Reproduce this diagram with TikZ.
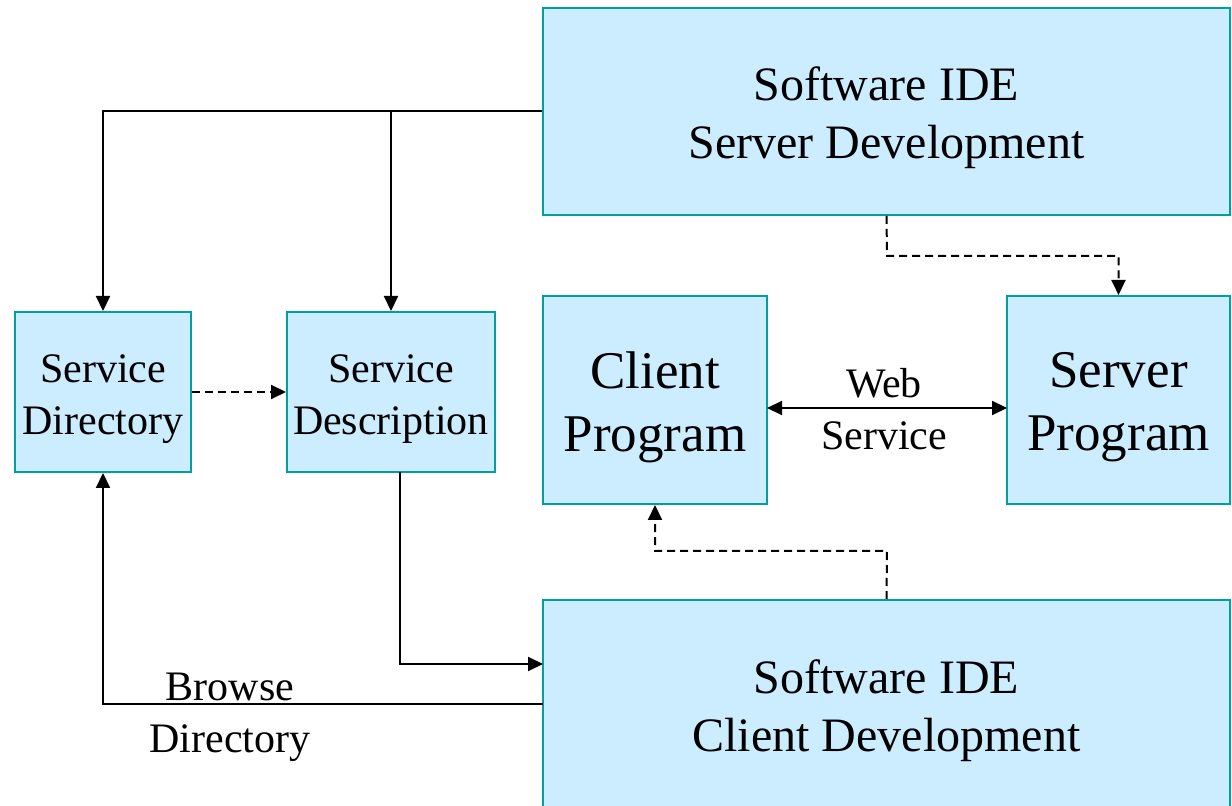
\documentclass[tikz,border=0pt]{standalone}
\usepackage{fontspec}
\setmainfont{Liberation Serif}
\usetikzlibrary{arrows.meta}
\definecolor{boxfill}{RGB}{204,236,255}
\definecolor{boxline}{RGB}{0,160,160}
\begin{document}
\begin{tikzpicture}[x=0.5pt,y=-0.5pt,
  blockbox/.style={draw=boxline,fill=boxfill,line width=1pt,inner sep=0pt},
  boxtext/.style={align=center,inner sep=0pt},
  bigtext/.style={boxtext,font=\fontsize{24}{29}\selectfont},
  progtext/.style={boxtext,font=\fontsize{26.5}{31.5}\selectfont},
  smalltext/.style={boxtext,font=\fontsize{21}{26}\selectfont},
  link/.style={line width=1pt,-{Triangle[length=7.5pt,width=7pt]}},
  dashlink/.style={link,dash pattern=on 4pt off 2.5pt}]

\useasboundingbox (0,0) rectangle (1232,806);

\node[blockbox,minimum width=343.5pt,minimum height=103.5pt] (srvide) at (886.5,111.5) {};
\node[bigtext] (srvidetxt) at (886.5,117.5) {Software IDE\\Server Development};
\node[blockbox,minimum width=343.5pt,minimum height=107.5pt] (clide) at (886.5,707.5) {};
\node[bigtext] (clidetxt) at (886.5,711) {Software IDE\\Client Development};

\node[blockbox,minimum width=88pt,minimum height=80pt] (srvdir) at (103,392) {};
\node[smalltext] (srvdirtxt) at (103,399) {Service\\Directory};
\node[blockbox,minimum width=104pt,minimum height=80pt] (srvdesc) at (391,392) {};
\node[smalltext] (srvdesctxt) at (391,399) {Service\\Description};

\node[blockbox,minimum width=112pt,minimum height=104pt] (clprog) at (655,400) {};
\node[progtext] (clprogtxt) at (655,407) {Client\\Program};
\node[blockbox,minimum width=111.5pt,minimum height=104pt] (srvprog) at (1118.5,400) {};
\node[progtext] (srvprogtxt) at (1118.5,407) {Server\\Program};

% solid connectors
\coordinate (top) at (391,111.5);
\draw[link] (srvide.west) -| (srvdir.north);
\draw[link] (top) -- (srvdesc.north);

\coordinate (descout) at (400,472);
\coordinate (clin) at (543,664);
\draw[link] (descout) |- (clin);

\coordinate (clout) at (543,704);
\draw[link] (clout) -| (srvdir.south);
\node[smalltext] (browse) at (230,717) {Browse\\Directory};

% web service
\coordinate (wsl) at (767,408);
\coordinate (wsr) at (1007,408);
\draw[link,{Triangle[length=7.5pt,width=7pt]}-{Triangle[length=7.5pt,width=7pt]}] (wsl) -- (wsr);
\node[smalltext] (websrv) at (884,409) {Web\\Service};

% dashed connectors
\draw[dashlink] (srvdir.east) -- (srvdesc.west);
\coordinate (srvbend) at (887,256);
\draw[dashlink] (srvide.south) -- (srvbend) -| (srvprog.north);
\coordinate (clbend) at (887,551);
\draw[dashlink] (clide.north) -- (clbend) -| (clprog.south);
\end{tikzpicture}
\end{document}
